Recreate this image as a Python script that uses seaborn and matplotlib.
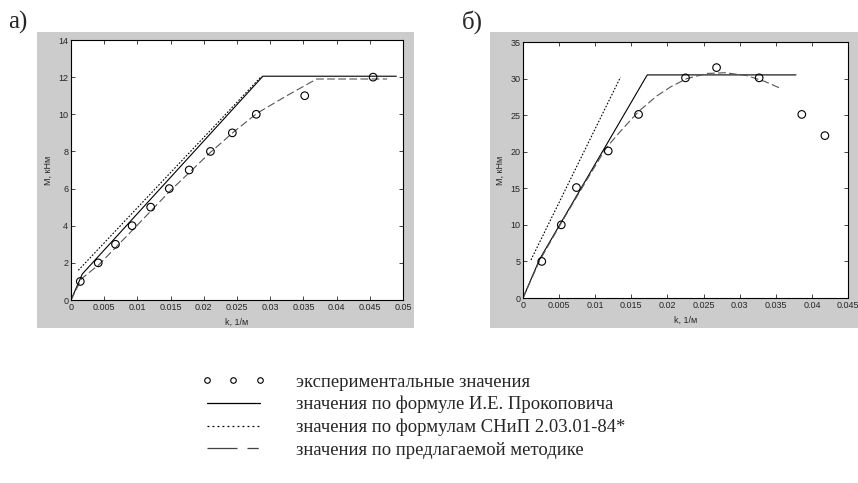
import matplotlib
matplotlib.use('Agg')
import matplotlib.pyplot as plt
from matplotlib.lines import Line2D
from matplotlib.patches import Rectangle
import seaborn as sns
import pandas as pd

# panel a) data
a_exp_k = [0.0014, 0.0041, 0.0067, 0.0092, 0.0120, 0.0148, 0.0178, 0.0210, 0.0243, 0.0279, 0.0352, 0.0455]
a_exp_m = [1, 2, 3, 4, 5, 6, 7, 8, 9, 10, 11, 12]
a_prok_k = [0, 0.0017, 0.0289, 0.0490]
a_prok_m = [0, 1.4, 12.05, 12.05]
a_snip_k = [0.0011, 0.0287]
a_snip_m = [1.6, 12.05]
a_new_k = [0, 0.0016, 0.0042, 0.0095, 0.0150, 0.0210, 0.0245, 0.0280, 0.0325, 0.0370, 0.0476]
a_new_m = [0, 1.15, 1.9, 3.85, 5.9, 7.95, 9.05, 10.05, 11.0, 11.9, 11.9]

# panel б) data
b_exp_k = [0.0026, 0.0053, 0.0074, 0.0118, 0.0160, 0.0225, 0.0268, 0.0327, 0.0386, 0.0418]
b_exp_m = [5.0, 10.0, 15.1, 20.1, 25.1, 30.1, 31.5, 30.1, 25.1, 22.2]
b_prok_k = [0, 0.0023, 0.0172, 0.0378]
b_prok_m = [0, 5.3, 30.5, 30.5]
b_snip_k = [0.0011, 0.0135]
b_snip_m = [5.2, 30.2]
b_new_k = [0, 0.0023, 0.0052, 0.0085, 0.0115, 0.0135, 0.0160, 0.0185, 0.0205, 0.0227, 0.0255, 0.0280, 0.0310, 0.0335, 0.0358]
b_new_m = [0, 5.1, 10.1, 15.6, 20.5, 22.8, 25.5, 27.6, 28.9, 30.0, 30.7, 30.8, 30.4, 29.6, 28.6]

labels = ['экспериментальные значения',
          'значения по формуле И.Е. Прокоповича',
          'значения по формулам СНиП 2.03.01-84*',
          'значения по предлагаемой методике']

sns.set_style('ticks')
plt.rcParams['font.family'] = ['Liberation Sans', 'DejaVu Sans']

fig = plt.figure(figsize=(8.58, 4.83), dpi=100)
W, H = 858, 483

# gray MATLAB-like figure backgrounds
fig.patches.append(Rectangle((37 / W, 1 - 328 / H), 377 / W, 296 / H, transform=fig.transFigure,
                             facecolor='#cccccc', edgecolor='none', zorder=-5))
fig.patches.append(Rectangle((490 / W, 1 - 328 / H), 368 / W, 296 / H, transform=fig.transFigure,
                             facecolor='#cccccc', edgecolor='none', zorder=-5))

ax1 = fig.add_axes([71 / W, 1 - 300 / H, 332 / W, 260 / H])
ax2 = fig.add_axes([523 / W, 1 - 298 / H, 325 / W, 256 / H])
ax1.set_zorder(3)
ax2.set_zorder(3)


def draw(ax, ek, em, pk, pm, sk, sm, nk, nm):
    sns.lineplot(x=pk, y=pm, ax=ax, color='black', lw=0.8, sort=False, estimator=None)
    sns.lineplot(x=sk, y=sm, ax=ax, color='black', lw=0.8, sort=False, estimator=None,
                 linestyle=(0, (1.5, 1.5)))
    sns.lineplot(x=nk, y=nm, ax=ax, color='#555555', lw=0.8, sort=False, estimator=None,
                 linestyle=(0, (7, 3)))
    sns.scatterplot(x=ek, y=em, ax=ax, s=30, facecolor='none', edgecolor='black',
                    linewidth=0.8, zorder=5)
    ax.set_facecolor('white')
    for sp in ax.spines.values():
        sp.set_visible(True)
        sp.set_linewidth(0.8)
        sp.set_color('black')
    ax.tick_params(direction='in', length=3, width=0.6, labelsize=6.5, pad=2,
                   top=True, right=True)
    ax.set_xlabel('k, 1/м', fontsize=6.5, labelpad=4)
    ax.set_ylabel('M, кНм', fontsize=6.5, labelpad=4)


draw(ax1, a_exp_k, a_exp_m, a_prok_k, a_prok_m, a_snip_k, a_snip_m, a_new_k, a_new_m)
ax1.set_xlim(0, 0.05)
ax1.set_ylim(0, 14)
ax1.set_xticks([0, 0.005, 0.01, 0.015, 0.02, 0.025, 0.03, 0.035, 0.04, 0.045, 0.05])
ax1.set_xticklabels(['0', '0.005', '0.01', '0.015', '0.02', '0.025', '0.03', '0.035', '0.04', '0.045', '0.05'])
ax1.set_yticks([0, 2, 4, 6, 8, 10, 12, 14])

draw(ax2, b_exp_k, b_exp_m, b_prok_k, b_prok_m, b_snip_k, b_snip_m, b_new_k, b_new_m)
ax2.set_xlim(0, 0.045)
ax2.set_ylim(0, 35)
ax2.set_xticks([0, 0.005, 0.01, 0.015, 0.02, 0.025, 0.03, 0.035, 0.04, 0.045])
ax2.set_xticklabels(['0', '0.005', '0.01', '0.015', '0.02', '0.025', '0.03', '0.035', '0.04', '0.045'])
ax2.set_yticks([0, 5, 10, 15, 20, 25, 30, 35])

fig.text(8 / W, 1 - 22 / H, 'а)', fontsize=18, family='Liberation Serif', va='center')
fig.text(462 / W, 1 - 22 / H, 'б)', fontsize=18, family='Liberation Serif', va='center')

handles = [
    Line2D([], [], ls='none', marker='o', mfc='none', mec='black', ms=4, mew=0.8),
    Line2D([], [], color='black', lw=0.9),
    Line2D([], [], color='black', lw=0.9, linestyle=(0, (1.5, 2.5))),
    Line2D([], [], color='#444444', lw=0.9, linestyle=(0, (24, 8, 9, 30))),
]
fig.legend(handles, labels, loc='upper left', bbox_to_anchor=(201 / W, 1 - 373.5 / H),
           frameon=False, numpoints=3, handlelength=3.45, handletextpad=1.67,
           borderaxespad=0, borderpad=0,
           labelspacing=0.29, prop={'family': 'Liberation Serif', 'size': 13.4})

fig.savefig('out.png', dpi=100)
